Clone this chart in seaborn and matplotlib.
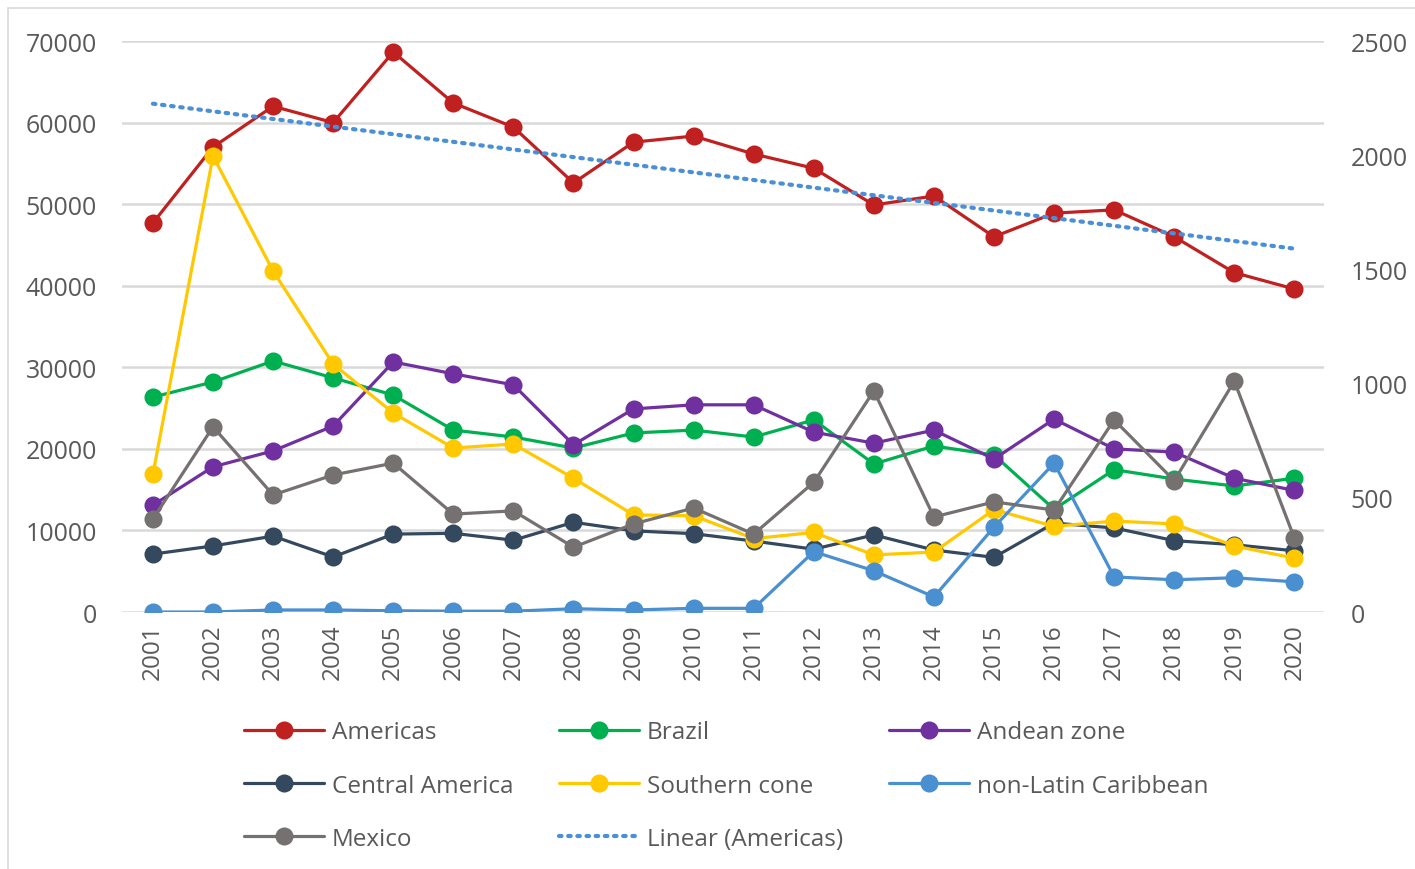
import numpy as np
import pandas as pd
import matplotlib.pyplot as plt
import seaborn as sns
from matplotlib.lines import Line2D
from matplotlib.patches import Rectangle

years = list(range(2001, 2021))

americas = [47700, 57000, 62000, 60000, 68650, 62400, 59450, 52600, 57600, 58350,
            56150, 54400, 49900, 51000, 46000, 48900, 49300, 46000, 41600, 39600]
brazil = [26350, 28200, 30770, 28700, 26600, 22300, 21450, 20100, 21950, 22300,
          21450, 23550, 18150, 20350, 19250, 12600, 17450, 16300, 15450, 16400]
andean = [13100, 17800, 19750, 22800, 30650, 29200, 27850, 20500, 24900, 25400,
          25400, 22050, 20700, 22300, 18750, 23650, 20000, 19600, 16400, 14900]
central = [7100, 8100, 9300, 6750, 9550, 9650, 8800, 11000, 9950, 9600,
           8700, 7700, 9450, 7600, 6700, 10900, 10300, 8750, 8250, 7500]
southern = [16900, 55900, 41800, 30400, 24400, 20100, 20600, 16400, 11900, 11800,
            9000, 9750, 7000, 7350, 12550, 10500, 11150, 10800, 8100, 6600]
caribbean = [0, 0, 250, 250, 150, 100, 100, 400, 250, 450,
             450, 7400, 5050, 1850, 10400, 18250, 4300, 3950, 4200, 3700]
mexico = [11400, 22700, 14350, 16800, 18250, 12000, 12400, 7950, 10800, 12750,
          9550, 15900, 27100, 11650, 13500, 12500, 23550, 16100, 28300, 9050]

series_names = ["Americas", "Brazil", "Andean zone", "Central America",
                "Southern cone", "non-Latin Caribbean", "Mexico"]
series_values = [americas, brazil, andean, central, southern, caribbean, mexico]
colors = ["#C0201F", "#00B050", "#7030A0", "#34495E", "#FFC800", "#4A8FD0", "#767171"]
trend_color = "#4A90D9"

left_ticks = list(range(0, 70001, 10000))
right_ticks = list(range(0, 2501, 500))

sns.set_theme(style="white")
plt.rcParams["font.family"] = ["Open Sans", "DejaVu Sans"]
text_color = "#595959"

fig = plt.figure(figsize=(14.15, 8.7), dpi=100)
ax = fig.add_axes([0.086, 0.2954, 0.85, 0.6563])

df = pd.DataFrame({"year": years})
for name, vals in zip(series_names, series_values):
    df[name] = vals

for name, color in zip(series_names, colors):
    sns.lineplot(data=df, x="year", y=name, ax=ax, color=color, linewidth=2.3,
                 marker="o", markersize=13, markeredgewidth=0, legend=False)

# linear trend of Americas
slope, intercept = np.polyfit(df["year"], df["Americas"], 1)
df["trend"] = slope * df["year"] + intercept
sns.lineplot(data=df, x="year", y="trend", ax=ax, color=trend_color, linewidth=3,
             linestyle=(0, (0.6, 1.6)), dash_capstyle="round", legend=False)

ax.set_xlim(2000.48, 2020.5)
ax.set_ylim(0, 70000)
ax.set_yticks(left_ticks)
ax.set_yticklabels([str(t) for t in left_ticks])
ax.set_xticks(years)
ax.set_xticklabels([str(y) for y in years], rotation=90)
ax.set_xlabel("")
ax.set_ylabel("")
ax.grid(axis="y", color="#D9D9D9", linewidth=1.8)
ax.set_axisbelow(True)
for s in ax.spines.values():
    s.set_visible(False)
ax.tick_params(axis="y", labelsize=18, colors=text_color, length=0, pad=18)
ax.tick_params(axis="x", labelsize=17.5, colors=text_color, length=0, pad=8)

ax2 = ax.twinx()
ax2.set_ylim(0, 2500)
ax2.set_yticks(right_ticks)
ax2.set_yticklabels([str(t) for t in right_ticks])
ax2.tick_params(axis="y", labelsize=18, colors=text_color, length=0, pad=19)
for s in ax2.spines.values():
    s.set_visible(False)
ax2.grid(False)

handles = [Line2D([], [], color=c, linewidth=2.3, marker="o", markersize=13,
                  markeredgewidth=0) for c in colors]
handles.append(Line2D([], [], color=trend_color, linewidth=3,
                      linestyle=(0, (0.6, 1.6)), dash_capstyle="round"))
labels = series_names + ["Linear (Americas)"]
order = [0, 3, 6, 1, 4, 7, 2, 5]
leg = fig.legend([handles[i] for i in order], [labels[i] for i in order],
                 ncol=3, loc="upper left", bbox_to_anchor=(0.157, 0.196),
                 frameon=False, fontsize=17.5, handlelength=3.3, handletextpad=0.3,
                 columnspacing=1.9, labelspacing=1.2)
for t in leg.get_texts():
    t.set_color(text_color)

fig.patches.append(Rectangle((0.006, -0.01), 1.5, 1.0, transform=fig.transFigure,
                             fill=False, edgecolor="#D9D9D9", linewidth=1.2))

fig.savefig("out.png", dpi=100)
